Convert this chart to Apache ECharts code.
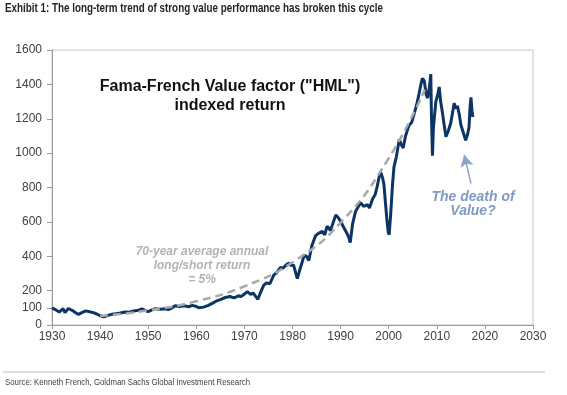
<!DOCTYPE html>
<html>
<head>
<meta charset="utf-8">
<script src="https://cdn.jsdelivr.net/npm/echarts@6/dist/echarts.min.js"></script>
<style>html,body{margin:0;padding:0;background:#fff;}#c{width:567px;height:395px;}</style>
</head>
<body>
<div id="c"></div>
<script>
// ---- data ----
var hmlYears = [1930.0,1930.8,1931.5,1931.9,1932.3,1932.7,1933.0,1933.4,1933.8,1934.4,1935.0,1935.5,1936.2,1937.0,1937.4,1938.0,1938.6,1939.3,1940.0,1940.8,1941.5,1942.4,1943.3,1944.2,1945.2,1946.0,1947.0,1948.0,1948.7,1949.3,1950.0,1950.8,1951.5,1952.5,1953.4,1954.2,1955.0,1955.6,1956.5,1957.5,1958.4,1959.2,1960.0,1960.5,1961.5,1962.5,1963.3,1964.2,1965.0,1966.0,1967.0,1967.8,1968.8,1969.3,1970.0,1970.6,1971.3,1971.8,1972.3,1972.8,1973.3,1974.0,1974.6,1975.3,1976.1,1976.7,1977.5,1978.0,1978.7,1979.3,1979.7,1980.2,1980.7,1981.0,1981.5,1982.0,1982.4,1982.9,1983.4,1984.0,1984.8,1985.5,1986.2,1986.7,1987.2,1987.9,1988.5,1989.0,1989.5,1990.0,1990.6,1991.2,1991.7,1992.0,1992.5,1993.1,1993.7,1994.2,1994.8,1995.6,1996.0,1996.6,1997.2,1997.6,1998.0,1998.3,1998.7,1999.0,1999.3,1999.6,1999.9,2000.1,2000.4,2000.8,2001.1,2001.6,2002.2,2002.6,2003.0,2003.5,2004.2,2004.8,2005.3,2005.8,2006.3,2006.7,2007.0,2007.4,2007.8,2008.1,2008.5,2008.75,2008.9,2009.1,2009.3,2009.8,2010.2,2010.5,2010.8,2011.2,2011.6,2011.9,2012.4,2012.9,2013.3,2013.6,2014.0,2014.3,2014.7,2015.0,2015.5,2016.0,2016.4,2016.7,2016.9,2017.1,2017.3,2017.5];
var hmlValues = [100,88,75,64,95,72,66,96,90,82,70,62,72,82,88,76,72,64,54,48,55,62,66,70,76,74,82,86,94,85,78,88,95,92,94,90,100,112,108,112,106,114,108,100,104,114,126,140,148,160,166,158,170,165,180,194,178,186,168,150,185,230,245,240,290,305,335,330,350,360,345,350,300,270,320,365,405,400,375,460,520,535,545,525,575,550,600,640,625,605,570,540,510,480,590,660,690,710,690,700,680,730,760,805,860,890,860,820,720,620,540,525,640,820,920,980,1080,1050,1030,1100,1160,1180,1230,1280,1345,1400,1435,1420,1340,1320,1390,1460,1200,985,1150,1300,1340,1385,1300,1230,1150,1095,1130,1175,1240,1290,1260,1275,1220,1165,1120,1075,1110,1150,1260,1325,1250,1210];
var trendYears = [1940,1950,1960,1970,1980,1990,2000,2007.5];
var trendValues = [52,85,138,225,365,595,970,1370];
var yTickValues = [0,100,200,400,600,800,1000,1200,1400,1600];
var arrowFrom = [2017.1, 824];
var arrowTo = [2015.7, 990];

var titleText = 'Exhibit 1: The long-term trend of strong value performance has broken this cycle';
var sourceText = 'Source: Kenneth French, Goldman Sachs Global Investment Research';

function pairs(xs, ys){ return xs.map(function(x,i){ return [x, ys[i]]; }); }
// narrow-font emulation: horizontal squeeze to the reference text width
function squeeze(text, font, targetWidth){
  var ctx = document.createElement('canvas').getContext('2d');
  ctx.font = font;
  return targetWidth / ctx.measureText(text).width;
}
var titleFont = 'bold 12px "Liberation Sans"';
var sourceFont = '9px "Liberation Sans"';
var titleScale = squeeze(titleText, titleFont, 378);
var sourceScale = squeeze(sourceText, sourceFont, 245);

var chart = echarts.init(document.getElementById('c'), null, {renderer:'canvas'});
var axisGray = '#9a9a9a';
chart.setOption({
  animation: false,
  backgroundColor: '#fff',
  grid: {left: 52, right: 34, top: 50, bottom: 70, show: true, borderColor: '#c6c6c6', borderWidth: 1},
  xAxis: {
    type: 'value', min: 1930, max: 2030, interval: 10,
    axisLine: {show: true, lineStyle: {color: axisGray}},
    axisTick: {show: true, length: 4, lineStyle: {color: axisGray}},
    axisLabel: {color: '#404040', fontFamily: 'Liberation Sans, Arial', fontSize: 12, margin: 6, formatter: function(v){ return String(v); }},
    splitLine: {show: false}
  },
  yAxis: {
    type: 'value', min: 0, max: 1600, interval: 100,
    axisLine: {show: true, lineStyle: {color: axisGray}},
    axisTick: {show: true, length: 5, customValues: yTickValues, lineStyle: {color: axisGray}},
    axisLabel: {color: '#404040', fontFamily: 'Liberation Sans, Arial', fontSize: 12, margin: 10, customValues: yTickValues, formatter: function(v){ return String(v); }},
    splitLine: {show: false}
  },
  series: [
    {
      type: 'line', data: pairs(hmlYears, hmlValues), symbol: 'none', z: 2,
      lineStyle: {color: '#0c3566', width: 3},
      markLine: {
        silent: true, symbol: ['none', 'arrow'], symbolSize: [10, 12],
        label: {show: false},
        lineStyle: {color: '#8ba4c8', width: 1.5, type: 'solid'},
        data: [[{coord: arrowFrom}, {coord: arrowTo}]]
      }
    },
    {
      type: 'line', data: pairs(trendYears, trendValues), symbol: 'none', smooth: true, z: 3,
      lineStyle: {color: '#a8a8a8', width: 2.5, type: [8, 5]}
    }
  ],
  graphic: [
    {type: 'text', x: 5, y: 3, scaleX: titleScale, style: {text: titleText, font: titleFont, fill: '#262626'}},
    {type: 'text', x: 230, y: 96, style: {text: 'Fama-French Value factor ("HML")\nindexed return', fontFamily: 'Liberation Sans, Arial', fontWeight: 'bold', fontSize: 16, lineHeight: 19, fill: '#111', align: 'center', verticalAlign: 'middle'}},
    {type: 'text', x: 202, y: 266, style: {text: '70-year average annual\nlong/short return\n= 5%', fontFamily: 'Liberation Sans, Arial', fontWeight: 'bold', fontStyle: 'italic', fontSize: 12, lineHeight: 14, fill: '#b3b3b3', align: 'center', verticalAlign: 'middle'}},
    {type: 'text', x: 473, y: 204, style: {text: 'The death of\nValue?', fontFamily: 'Liberation Sans, Arial', fontWeight: 'bold', fontStyle: 'italic', fontSize: 14, lineHeight: 14, fill: '#8099c2', align: 'center', verticalAlign: 'middle'}},
    {type: 'line', shape: {x1: 3, y1: 372, x2: 545, y2: 372}, style: {stroke: '#bdbdbd', lineWidth: 1}},
    {type: 'text', x: 5, y: 378, scaleX: sourceScale, style: {text: sourceText, font: sourceFont, fill: '#404040'}}
  ]
});
</script>
</body>
</html>
